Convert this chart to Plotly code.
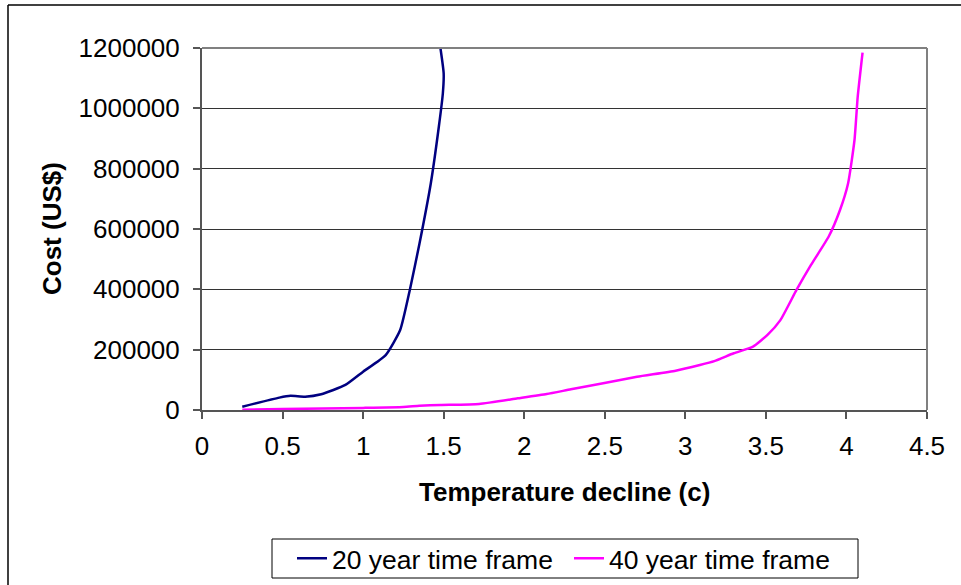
import plotly.graph_objects as go

# Data
t20_x = [0.25, 0.48, 0.55, 0.64, 0.74, 0.89, 1.0, 1.14, 1.23, 1.29, 1.35, 1.42, 1.47, 1.495, 1.5, 1.48]
t20_y = [11000, 41000, 47000, 44000, 52000, 83000, 127000, 182000, 265000, 398000,
         552000, 751000, 939000, 1050000, 1116000, 1200000]

t40_x = [0.25, 0.5, 0.75, 1.0, 1.25, 1.35, 1.48, 1.72, 1.96, 2.14, 2.29, 2.49, 2.70, 2.94,
         3.09, 3.18, 3.30, 3.42, 3.51, 3.59, 3.69, 3.78, 3.89, 3.96, 4.01, 4.05, 4.07, 4.10]
t40_y = [1000, 3000, 5000, 7000, 10000, 14000, 16500, 20000, 38700, 53000, 68600, 88400,
         110000, 130000, 149000, 162000, 188000, 210000, 249000, 298000, 398000, 481000,
         575000, 663000, 751000, 895000, 1039000, 1185000]

series_names = ["20 year time frame", "40 year time frame"]
x_ticks = [0, 0.5, 1, 1.5, 2, 2.5, 3, 3.5, 4, 4.5]
x_tick_labels = ["0", "0.5", "1", "1.5", "2", "2.5", "3", "3.5", "4", "4.5"]
y_ticks = [0, 200000, 400000, 600000, 800000, 1000000, 1200000]
y_tick_labels = ["0", "200000", "400000", "600000", "800000", "1000000", "1200000"]

W, H = 961, 585
L, R, T, B = 202, 927, 48, 410
FONT = "Liberation Sans, Arial, sans-serif"


def px(xp):
    return (xp - L) / (R - L)


def py(yp):
    return (B - yp) / (B - T)


fig = go.Figure()
fig.add_trace(go.Scatter(x=t20_x, y=t20_y, mode="lines", name=series_names[0],
                         line=dict(color="#000080", width=2.5, shape="spline", smoothing=0.5)))
fig.add_trace(go.Scatter(x=t40_x, y=t40_y, mode="lines", name=series_names[1],
                         line=dict(color="#FF00FF", width=2.5, shape="spline", smoothing=0.5)))

fig.update_layout(
    width=W, height=H,
    margin=dict(l=L, r=W - R, t=T, b=H - B, autoexpand=False),
    paper_bgcolor="white", plot_bgcolor="white",
    font=dict(family=FONT, size=26, color="black"),
    showlegend=True,
    legend=dict(orientation="h", x=px(292), y=py(558.5), xanchor="left", yanchor="middle",
                borderwidth=0, bgcolor="rgba(0,0,0,0)",
                font=dict(size=26.5), entrywidth=232, entrywidthmode="pixels", tracegroupgap=0),
    xaxis=dict(range=[0, 4.5], tickvals=x_ticks, ticktext=x_tick_labels,
               showgrid=False, zeroline=False, showline=True, linecolor="#555555", linewidth=2,
               ticks="outside", ticklen=7, tickcolor="#555555", tickwidth=1.5,
               tickfont=dict(size=26), ticklabelstandoff=5, fixedrange=True),
    yaxis=dict(range=[0, 1200000], tickvals=y_ticks, ticktext=y_tick_labels,
               showgrid=True, gridcolor="#333333", gridwidth=1, zeroline=False,
               showline=True, linecolor="#555555", linewidth=2,
               ticks="outside", ticklen=7, tickcolor="#555555", tickwidth=1.5,
               tickfont=dict(size=26), ticklabelstandoff=8, fixedrange=True),
    annotations=[
        dict(text="<b>Temperature decline (c)</b>", x=px(564), y=py(492), xref="paper", yref="paper",
             showarrow=False, xanchor="center", yanchor="middle", font=dict(size=26)),
        dict(text="<b>Cost (US$)</b>", x=px(52), y=py(229), xref="paper", yref="paper",
             showarrow=False, xanchor="center", yanchor="middle", textangle=-90, font=dict(size=26)),
    ],
    shapes=[
        # plot-area border (top and right)
        dict(type="line", xref="paper", yref="paper", x0=0, x1=1, y0=1, y1=1,
             line=dict(color="#808080", width=2)),
        dict(type="line", xref="paper", yref="paper", x0=1, x1=1, y0=0, y1=1,
             line=dict(color="#808080", width=2)),
        # outer chart frame (left and top visible)
        dict(type="line", xref="paper", yref="paper", x0=px(8), x1=px(8), y0=py(5), y1=py(600),
             line=dict(color="black", width=1.5)),
        dict(type="line", xref="paper", yref="paper", x0=px(8), x1=px(980), y0=py(5), y1=py(5),
             line=dict(color="black", width=1.5)),
        # legend box
        dict(type="rect", xref="paper", yref="paper", x0=px(272), x1=px(858), y0=py(539), y1=py(578),
             line=dict(color="black", width=1), fillcolor="rgba(0,0,0,0)", layer="below"),
    ],
)

fig.write_html("out.html")
